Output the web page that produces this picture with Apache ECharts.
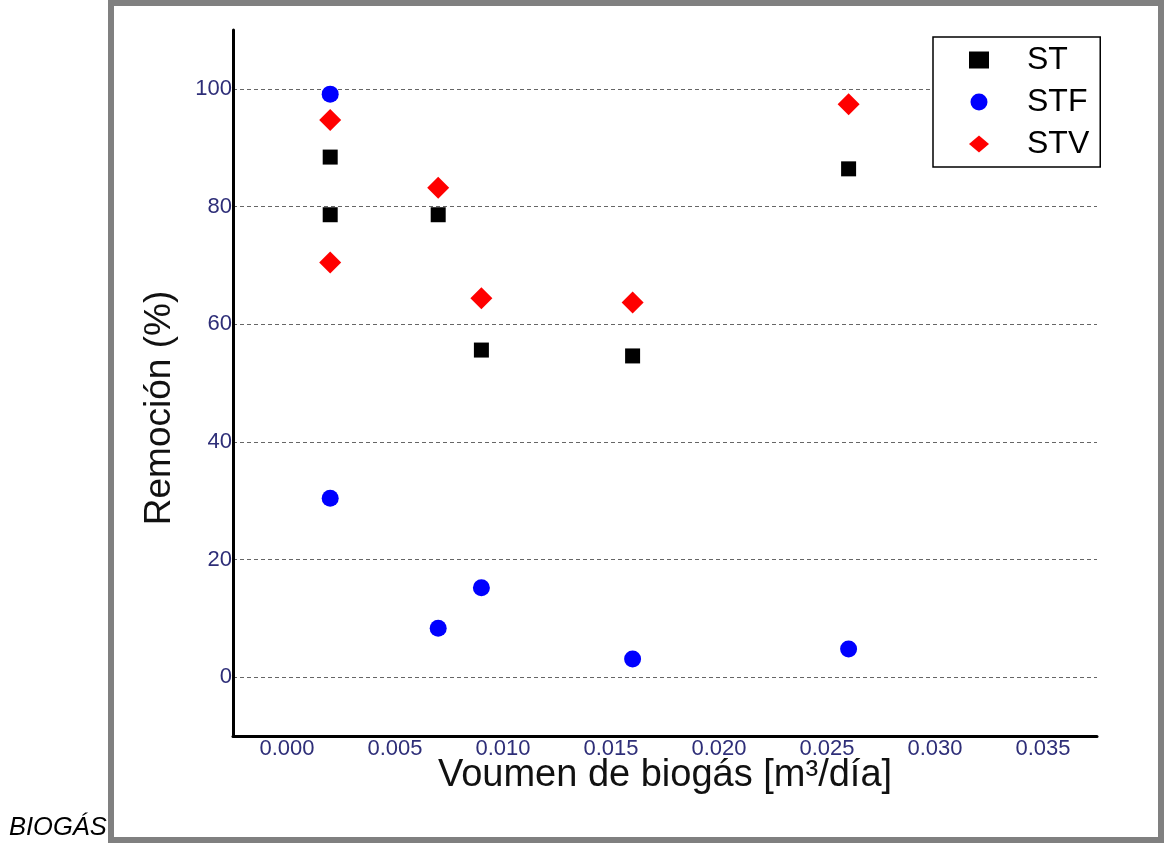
<!DOCTYPE html>
<html>
<head>
<meta charset="utf-8">
<script src="https://cdn.jsdelivr.net/npm/echarts@6/dist/echarts.min.js"></script>
<style>
  html, body { margin: 0; padding: 0; background: #fff; }
  #main { width: 1164px; height: 849px; }
</style>
</head>
<body>
<div id="main"></div>
<script>
// datos
const seriesNames = ['ST', 'STF', 'STV'];
const volumen = [0.002, 0.002, 0.007, 0.009, 0.016, 0.026];
const remST = [88.4, 78.6, 78.6, 55.6, 54.6, 86.4];
const volSTF = [0.002, 0.002, 0.007, 0.009, 0.016, 0.026];
const remSTF = [99.1, 30.4, 8.3, 15.2, 3.1, 4.8];
const remSTV = [94.7, 70.5, 83.2, 64.4, 63.7, 97.4];
const xTicks = [0, 0.005, 0.010, 0.015, 0.020, 0.025, 0.030, 0.035];
const yTicks = [0, 20, 40, 60, 80, 100];

const font = 'Liberation Sans, Arial, sans-serif';
const tickColor = '#2e2e78';

function pares(xs, ys) {
  let out = [];
  for (let i = 0; i < ys.length; i++) {
    out.push([xs[i], ys[i]]);
  }
  return out;
}

let chart = echarts.init(document.getElementById('main'));
let option = {
  backgroundColor: '#fff',
  animation: false,
  title: {
    text: 'BIOGÁS',
    left: 9,
    top: 815,
    padding: 0,
    textStyle: {
      fontFamily: font,
      fontStyle: 'italic',
      fontWeight: 'normal',
      fontSize: 25.5,
      color: '#000'
    }
  },
  graphic: [
    {
      type: 'rect',
      shape: { x: 111, y: 3, width: 1050, height: 837 },
      style: { fill: 'none', stroke: '#808080', lineWidth: 6 },
      z: 100
    }
  ],
  legend: {
    orient: 'vertical',
    left: 933,
    top: 37,
    padding: [2, 11, 2, 36],
    itemGap: 0,
    itemWidth: 20,
    itemHeight: 17,
    backgroundColor: '#fff',
    borderColor: '#000',
    borderWidth: 1.5,
    textStyle: {
      fontFamily: font,
      fontSize: 32,
      lineHeight: 42,
      color: '#000',
      padding: [0, 0, 0, 33]
    },
    data: seriesNames
  },
  grid: {
    left: 233,
    top: 30,
    right: 67,
    bottom: 113,
    containLabel: false
  },
  xAxis: {
    type: 'value',
    min: -0.0025,
    max: 0.0375,
    name: 'Voumen de biogás [m³/día]',
    nameLocation: 'middle',
    nameGap: 21,
    nameMoveOverlap: false,
    nameTextStyle: {
      fontFamily: font,
      fontSize: 38,
      color: '#111',
      verticalAlign: 'top'
    },
    axisLine: { onZero: false, lineStyle: { color: '#000', width: 3 } },
    axisTick: { show: false, customValues: xTicks },
    splitLine: { show: false },
    axisLabel: {
      customValues: xTicks,
      margin: 2,
      fontFamily: font,
      fontSize: 22,
      color: tickColor,
      formatter: function (v) { return v.toFixed(3); }
    }
  },
  yAxis: {
    type: 'value',
    min: -10,
    max: 110,
    name: 'Remoción (%)',
    nameLocation: 'middle',
    nameRotate: 90,
    nameGap: 55,
    nameMoveOverlap: false,
    nameTextStyle: {
      fontFamily: font,
      fontSize: 37,
      color: '#111',
      padding: [0, 50, 0, 0]
    },
    axisLine: { show: true, onZero: false, lineStyle: { color: '#000', width: 3 } },
    axisTick: { show: false, customValues: yTicks },
    splitLine: {
      show: true,
      lineStyle: { color: '#666', width: 1, type: [4, 3] }
    },
    axisLabel: {
      customValues: yTicks,
      margin: 1,
      fontFamily: font,
      fontSize: 22,
      color: tickColor
    }
  },
  series: [
    {
      name: 'ST',
      type: 'scatter',
      symbol: 'rect',
      symbolSize: 15,
      itemStyle: { color: '#000', opacity: 1 },
      data: pares(volumen, remST)
    },
    {
      name: 'STF',
      type: 'scatter',
      symbol: 'circle',
      symbolSize: 17,
      itemStyle: { color: '#0000ff', opacity: 1 },
      data: pares(volSTF, remSTF)
    },
    {
      name: 'STV',
      type: 'scatter',
      symbol: 'diamond',
      symbolSize: 22,
      itemStyle: { color: '#ff0000', opacity: 1 },
      data: pares(volumen, remSTV)
    }
  ]
};
chart.setOption(option);
</script>
</body>
</html>
